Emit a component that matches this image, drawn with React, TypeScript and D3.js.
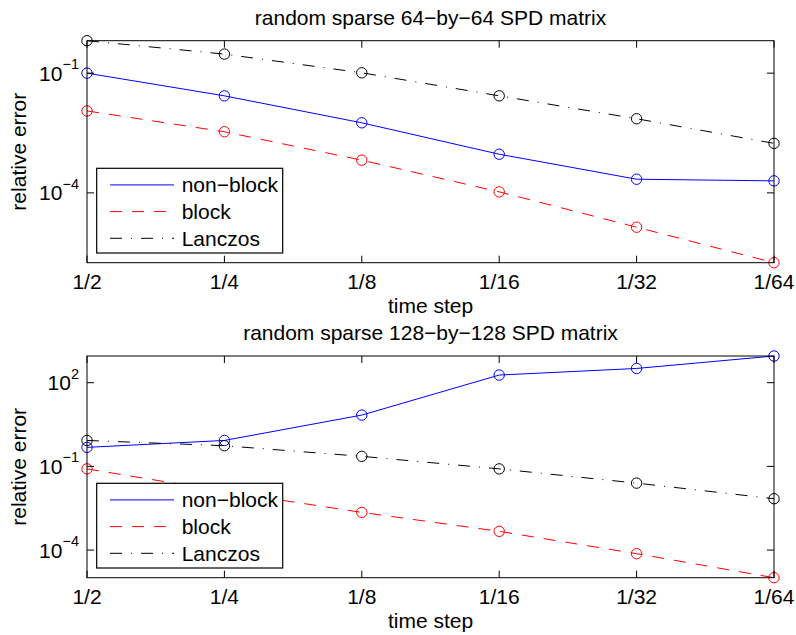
import React from "react";
import * as d3 from "d3";

const timeSteps = [1 / 2, 1 / 4, 1 / 8, 1 / 16, 1 / 32, 1 / 64];
const timeLabels = ["1/2", "1/4", "1/8", "1/16", "1/32", "1/64"];

// Panel 1: random sparse 64-by-64
const top_nonBlock = [1.0e-1, 2.7e-2, 5.7e-3, 9.3e-4, 2.2e-4, 2.0e-4];
const top_block = [1.13e-2, 3.4e-3, 6.6e-4, 1.06e-4, 1.38e-5, 1.78e-6];
const top_lanczos = [6.5e-1, 3.0e-1, 1.02e-1, 2.7e-2, 7.2e-3, 1.74e-3];
const top_yTicks = [1e-1, 1e-4];
const top_yTickExp = ["\u22121", "\u22124"];

// Panel 2: random sparse 128-by-128
const bot_nonBlock = [4.8e-1, 8.5e-1, 6.9, 188, 324, 906];
const bot_block = [8.13e-2, 1.26e-2, 2.24e-3, 4.68e-4, 7.4e-5, 1.02e-5];
const bot_lanczos = [8.5e-1, 5.5e-1, 2.29e-1, 8.13e-2, 2.51e-2, 6.92e-3];
const bot_yTicks = [1e2, 1e-1, 1e-4];
const bot_yTickExp = ["2", "\u22121", "\u22124"];

const seriesNames = ["non\u2212block", "block", "Lanczos"];
const seriesColors = ["#0000ff", "#ff0000", "#000000"];
const seriesDash = ["none", "12,10", "12,9,1,9"];

const FONT = "'Liberation Sans', Arial, Helvetica, sans-serif";
const FS = 21;

type PanelProps = {
  title: string;
  top: number;
  bottom: number;
  series: number[][];
  yTicks: number[];
  yTickExp: string[];
};

const LEFT = 87;
const RIGHT = 774;

function Panel({ title, top, bottom, series, yTicks, yTickExp }: PanelProps) {
  const x = d3.scaleLog().base(2).domain([timeSteps[0], timeSteps[timeSteps.length - 1]]).range([LEFT, RIGHT]);
  const all = series.flat();
  const ext = d3.extent(all) as [number, number];
  const y = d3.scaleLog().domain(ext).range([bottom, top]);
  const line = d3
    .line<number>()
    .x((_, i) => x(timeSteps[i]))
    .y((d) => y(d));
  const tickLen = 7;
  const cx = (LEFT + RIGHT) / 2;
  const cy = (top + bottom) / 2;

  const legX = LEFT + 9.7;
  const legW = 186;
  const legH = 84.7;
  const legY = bottom - 9.7 - legH;

  return (
    <g>
      <text x={cx} y={top - 16} textAnchor="middle" fontSize={FS} fontFamily={FONT}>
        {title}
      </text>
      {series.map((s, k) => (
        <g key={k}>
          <path d={line(s) || ""} fill="none" stroke={seriesColors[k]} strokeWidth={1} strokeDasharray={seriesDash[k]} />
          {s.map((v, i) => (
            <circle key={i} cx={x(timeSteps[i])} cy={y(v)} r={5.2} fill="none" stroke={seriesColors[k]} strokeWidth={1} />
          ))}
        </g>
      ))}
      <rect x={LEFT} y={top} width={RIGHT - LEFT} height={bottom - top} fill="none" stroke="#000" strokeWidth={1} />
      {timeSteps.map((t, i) => (
        <g key={i}>
          <line x1={x(t)} x2={x(t)} y1={bottom} y2={bottom - tickLen} stroke="#000" strokeWidth={1} />
          <line x1={x(t)} x2={x(t)} y1={top} y2={top + tickLen} stroke="#000" strokeWidth={1} />
          <text x={x(t)} y={bottom + 26} textAnchor="middle" fontSize={FS} fontFamily={FONT}>
            {timeLabels[i]}
          </text>
        </g>
      ))}
      {yTicks.map((t, i) => (
        <g key={i}>
          <line x1={LEFT} x2={LEFT + tickLen} y1={y(t)} y2={y(t)} stroke="#000" strokeWidth={1} />
          <line x1={RIGHT} x2={RIGHT - tickLen} y1={y(t)} y2={y(t)} stroke="#000" strokeWidth={1} />
          <text x={LEFT - 8} y={y(t) + 7.5} textAnchor="end" fontSize={FS} fontFamily={FONT}>
            10
            <tspan dy={-11.5} fontSize={14.5}>
              {yTickExp[i]}
            </tspan>
          </text>
        </g>
      ))}
      <text x={cx} y={bottom + 50} textAnchor="middle" fontSize={FS} fontFamily={FONT}>
        time step
      </text>
      <text transform={`translate(26,${cy}) rotate(-90)`} textAnchor="middle" fontSize={FS} fontFamily={FONT}>
        relative error
      </text>
      <rect x={legX} y={legY} width={legW} height={legH} fill="#fff" stroke="#000" strokeWidth={1.2} />
      {seriesNames.map((n, k) => {
        const ly = legY + 16.6 + k * 26.7;
        return (
          <g key={k}>
            <line x1={legX + 13.3} x2={legX + 77.3} y1={ly} y2={ly} stroke={seriesColors[k]} strokeWidth={1} strokeDasharray={seriesDash[k]} />
            <text x={legX + 85} y={ly + 7.5} fontSize={FS} fontFamily={FONT}>
              {n}
            </text>
          </g>
        );
      })}
    </g>
  );
}

export default function App() {
  return (
    <svg width={796} height={635} style={{ position: "absolute", left: 0, top: 0, background: "#fff" }}>
      <rect x={0} y={0} width={796} height={635} fill="#fff" />
      <Panel
        title={"random sparse 64\u2212by\u221264 SPD matrix"}
        top={40.7}
        bottom={262.7}
        series={[top_nonBlock, top_block, top_lanczos]}
        yTicks={top_yTicks}
        yTickExp={top_yTickExp}
      />
      <Panel
        title={"random sparse 128\u2212by\u2212128 SPD matrix"}
        top={356}
        bottom={577.7}
        series={[bot_nonBlock, bot_block, bot_lanczos]}
        yTicks={bot_yTicks}
        yTickExp={bot_yTickExp}
      />
    </svg>
  );
}
